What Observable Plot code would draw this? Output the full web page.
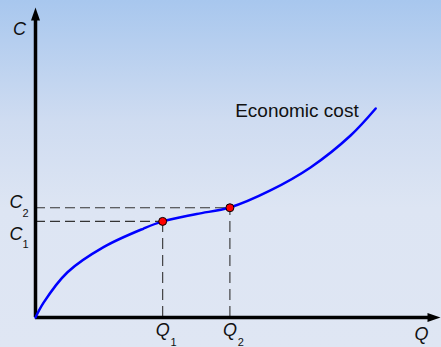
<!DOCTYPE html>
<html><head><meta charset="utf-8">
<script src="https://cdn.jsdelivr.net/npm/d3@7"></script>
<script src="https://cdn.jsdelivr.net/npm/@observablehq/plot@0.6"></script>
<style>
body{margin:0;}
#wrap{width:441px;height:347px;background:linear-gradient(to bottom,#a8c7ee 0%,#cfdcf1 35%,#dde5f3 60%,#dfe6f3 100%);}
svg{background:none !important;}
</style></head><body><div id="wrap"></div>
<script>
// Economic cost curve (x = quantity Q, y = cost C), arbitrary units 0..100
const curveQ = [0, 2.0, 7.9, 16.8, 26.7, 31.4, 39.8, 48.0, 58.0, 67.9, 77.8, 84.0];
const curveC = [0, 4.8, 14.6, 22.7, 28.7, 31.0, 33.4, 35.5, 41.0, 48.4, 58.7, 67.4];
const pointQ = [31.4, 48.0];
const pointC = [31.0, 35.4];
const pointNames = ["1", "2"];
const axisMax = 100;
const curveLabel = "Economic cost";

const curve = curveQ.map((q, i) => ({q, c: curveC[i]}));
const pts = pointQ.map((q, i) => ({q, c: pointC[i], n: pointNames[i]}));
const p1 = pts.filter(d => d.n === "1");
const p2 = pts.filter(d => d.n === "2");

const head = {draw(ctx, l, r) { ctx.moveTo(0, -l); ctx.lineTo(-r, 0); ctx.lineTo(r, 0); ctx.closePath(); }};
const font = "Arial, 'Liberation Sans', sans-serif";
const ink = "#111";

const chart = Plot.plot({
  width: 441, height: 347,
  marginLeft: 35, marginRight: 1, marginTop: 7, marginBottom: 30,
  x: {domain: [0, axisMax], axis: null},
  y: {domain: [0, axisMax], axis: null},
  style: {fontFamily: font, background: "none"},
  marks: [
    // dashed guides
    Plot.ruleY(pts, {y: "c", x1: 0, x2: "q", stroke: "#333", strokeWidth: 1.1, strokeDasharray: "10,5"}),
    Plot.ruleX(pts, {x: "q", y1: 0, y2: "c", stroke: "#333", strokeWidth: 1.1, strokeDasharray: "11,6"}),
    // axes
    Plot.ruleX([0], {y1: 0, y2: 97, stroke: "black", strokeWidth: 3.5}),
    Plot.ruleY([0], {x1: 0, x2: 98, stroke: "black", strokeWidth: 3.5}),
    Plot.vector([{x: 0, y: axisMax, r: 0}, {x: axisMax, y: 0, r: 90}], {
      x: "x", y: "y", rotate: "r", length: 13, r: 4.5, anchor: "end", shape: head,
      fill: "black", stroke: "none"
    }),
    // curve
    Plot.line(curve, {x: "q", y: "c", curve: "catmull-rom", stroke: "#0000ff", strokeWidth: 2.5}),
    Plot.dot(pts, {x: "q", y: "c", r: 4, fill: "#ff0000", stroke: "black", strokeWidth: 1}),
    // labels
    Plot.text([curveLabel], {x: curveQ[curveQ.length - 1], y: curveC[curveC.length - 1], text: d => d, dx: -17, dy: 2, textAnchor: "end", fontSize: 19, fill: ink}),
    Plot.text(["C"], {x: 0, y: axisMax, text: d => d, dx: -16, dy: 21.5, fontSize: 18, fontStyle: "italic", fill: ink}),
    Plot.text(["Q"], {x: axisMax, y: 0, text: d => d, dx: -19, dy: 16.5, fontSize: 18, fontStyle: "italic", fill: ink}),
    Plot.text(p2, {x: 0, y: "c", text: () => "C", dx: -19.5, dy: -5.5, fontSize: 18, fontStyle: "italic", fill: ink}),
    Plot.text(p2, {x: 0, y: "c", text: "n", dx: -10, dy: 5.5, fontSize: 11, fill: ink}),
    Plot.text(p1, {x: 0, y: "c", text: () => "C", dx: -19.5, dy: 12.5, fontSize: 18, fontStyle: "italic", fill: ink}),
    Plot.text(p1, {x: 0, y: "c", text: "n", dx: -10, dy: 23, fontSize: 11, fill: ink}),
    Plot.text(pts, {x: "q", y: 0, text: () => "Q", dx: 0, dy: 13, fontSize: 18, fontStyle: "italic", fill: ink}),
    Plot.text(pts, {x: "q", y: 0, text: "n", dx: 11, dy: 24.5, fontSize: 11, fill: ink})
  ]
});
document.getElementById("wrap").append(chart);
</script></body></html>
